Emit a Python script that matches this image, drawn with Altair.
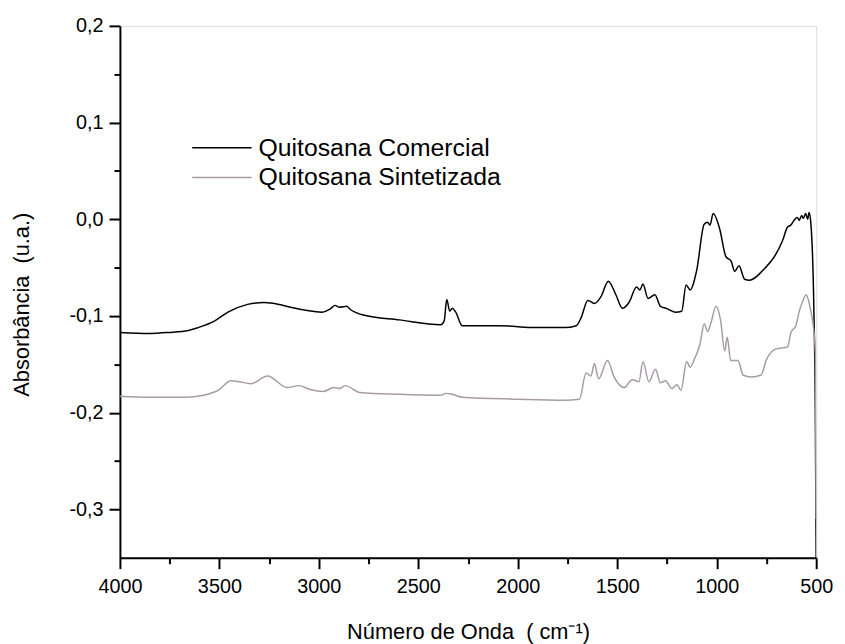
import altair as alt
import pandas as pd

# Quitosana Comercial (black)
com_wn = [4000, 3850, 3756, 3656, 3607, 3523, 3457, 3358, 3275, 3200, 3143, 2984, 2944, 2919,
          2896, 2860, 2843, 2777, 2596, 2387, 2370, 2357, 2342, 2329, 2312, 2279, 2098, 1900,
          1765, 1706, 1682, 1648, 1615, 1582, 1545, 1507, 1474, 1441, 1403, 1386, 1371, 1345,
          1311, 1283, 1255, 1208, 1176, 1154, 1134, 1101, 1063, 1046, 1034, 1018, 985, 955,
          926, 910, 888, 860, 835, 769, 669, 644, 628, 611, 595, 585, 573, 565, 553, 543, 536,
          527, 512, 504, 500]
com_val = [-0.117, -0.118, -0.117, -0.115, -0.112, -0.105, -0.096, -0.088, -0.086, -0.088,
           -0.091, -0.096, -0.093, -0.089, -0.091, -0.090, -0.093, -0.099, -0.104, -0.109,
           -0.105, -0.083, -0.095, -0.092, -0.096, -0.110, -0.110, -0.112, -0.112, -0.110,
           -0.102, -0.084, -0.087, -0.080, -0.064, -0.078, -0.092, -0.086, -0.070, -0.073,
           -0.067, -0.082, -0.078, -0.090, -0.092, -0.096, -0.095, -0.068, -0.073, -0.053,
           -0.005, -0.003, -0.006, 0.006, -0.010, -0.038, -0.044, -0.054, -0.048, -0.062,
           -0.063, -0.053, -0.022, -0.008, -0.006, -0.001, 0.002, -0.001, 0.004, 0.001,
           0.006, 0.000, 0.007, -0.004, -0.090, -0.213, -0.360]

# Quitosana Sintetizada (grey)
sin_wn = [4000, 3850, 3673, 3580, 3507, 3441, 3400, 3341, 3258, 3159, 3100, 3043, 2976, 2926,
          2896, 2868, 2794, 2596, 2387, 2362, 2329, 2279, 2000, 1765, 1690, 1657, 1632, 1615,
          1594, 1549, 1516, 1466, 1424, 1391, 1371, 1341, 1308, 1283, 1258, 1225, 1200, 1180,
          1151, 1134, 1109, 1084, 1063, 1046, 1029, 1004, 981, 960, 947, 930, 893, 868, 827,
          777, 752, 702, 644, 627, 602, 585, 564, 552, 540, 530, 519, 504, 500]
sin_val = [-0.183, -0.184, -0.184, -0.182, -0.177, -0.167, -0.168, -0.170, -0.162, -0.174,
           -0.172, -0.176, -0.178, -0.174, -0.175, -0.172, -0.179, -0.181, -0.182, -0.180,
           -0.181, -0.184, -0.186, -0.187, -0.186, -0.159, -0.162, -0.149, -0.165, -0.146,
           -0.163, -0.174, -0.166, -0.168, -0.147, -0.168, -0.155, -0.169, -0.167, -0.175,
           -0.171, -0.177, -0.147, -0.153, -0.143, -0.129, -0.108, -0.116, -0.107, -0.090,
           -0.104, -0.136, -0.122, -0.146, -0.146, -0.161, -0.163, -0.161, -0.146, -0.134,
           -0.132, -0.117, -0.110, -0.095, -0.083, -0.078, -0.083, -0.092, -0.104, -0.138,
           -0.310]

series_names = ["Quitosana Comercial", "Quitosana Sintetizada"]
series_colors = ["#000000", "#a99aa7"]

x_ticks = [4000, 3750, 3500, 3250, 3000, 2750, 2500, 2250, 2000, 1750, 1500, 1250, 1000, 750, 500]
y_ticks = [-0.3, -0.25, -0.2, -0.15, -0.1, -0.05, 0.0, 0.05, 0.1, 0.15, 0.2]

rows = []
for i, (w, v) in enumerate(zip(com_wn, com_val)):
    rows.append({"wn": w, "abs": v, "serie": series_names[0], "ord": i})
for i, (w, v) in enumerate(zip(sin_wn, sin_val)):
    rows.append({"wn": w, "abs": v, "serie": series_names[1], "ord": i})
df = pd.DataFrame(rows)

FONT = "Liberation Sans"

x_axis = alt.Axis(
    values=x_ticks,
    title="Número de Onda\u00a0\u00a0( cm⁻¹)",
    labelExpr="datum.value % 500 === 0 ? format(datum.value, 'd') : ''",
    tickSize={"condition": {"test": "datum.value % 500 === 0", "value": 11}, "value": 6},
    tickWidth=2, tickColor="black",
    domainWidth=2, domainColor="black",
    labelFont=FONT, labelFontSize=20, labelColor="black", labelPadding=8,
    labelFlush=False, labelOverlap=False,
    titleFont=FONT, titleFontSize=22, titleFontWeight="normal", titleColor="black",
    titlePadding=26, grid=False,
)

y_axis = alt.Axis(
    values=y_ticks,
    title="Absorbância\u00a0\u00a0(u.a.)",
    labelExpr="round(datum.value*100) % 10 !== 0 ? '' : (datum.value < -0.001 ? '-' : '') + replace(format(abs(datum.value), '.1f'), '.', ',')",
    tickSize={"condition": {"test": "round(datum.value*100) % 10 === 0", "value": 11}, "value": 6},
    tickWidth=2, tickColor="black",
    domainWidth=2, domainColor="black",
    labelFont=FONT, labelFontSize=20, labelColor="black", labelPadding=6,
    labelFlush=False, labelOverlap=False,
    titleFont=FONT, titleFontSize=22, titleFontWeight="normal", titleColor="black",
    titlePadding=36, titleY=281, grid=False,
)

chart = alt.Chart(df).mark_line(strokeWidth=1.5, clip=True, interpolate="monotone").encode(
    x=alt.X("wn:Q", scale=alt.Scale(domain=[500, 4000], reverse=True, nice=False, zero=False), axis=x_axis),
    y=alt.Y("abs:Q", scale=alt.Scale(domain=[-0.35, 0.2], nice=False, zero=False), axis=y_axis),
    color=alt.Color(
        "serie:N",
        scale=alt.Scale(domain=series_names, range=series_colors),
        legend=alt.Legend(
            title=None, orient="none", legendX=72, legendY=108,
            symbolType="stroke", symbolSize=3600, symbolStrokeWidth=1.5,
            labelFont=FONT, labelFontSize=25, labelColor="black", labelLimit=0,
            clipHeight=30, rowPadding=0, labelOffset=6, padding=0,
        ),
    ),
    detail="serie:N",
    order="ord:Q",
).properties(
    width=703, height=537,
    padding={"left": 113, "top": 15, "right": 21, "bottom": 84},
    autosize=alt.AutoSizeParams(type="none"),
).configure_view(stroke=None).configure(background="white")

chart.save("out.html", embed_options={"renderer": "svg", "actions": False})
